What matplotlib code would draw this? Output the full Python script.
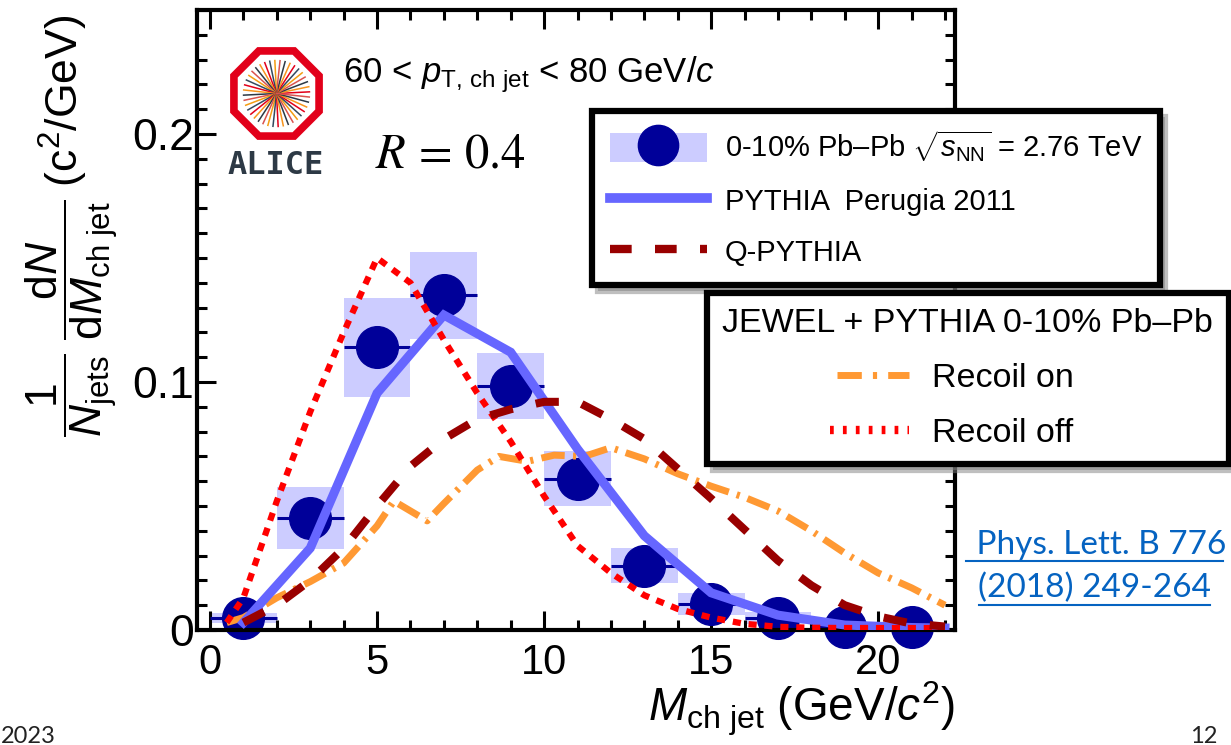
import numpy as np
import matplotlib
matplotlib.use("Agg")
import matplotlib.pyplot as plt
from matplotlib.lines import Line2D
from matplotlib.patches import Patch, RegularPolygon
from matplotlib.legend_handler import HandlerLine2D, HandlerTuple
from matplotlib.ticker import MultipleLocator

# ---------------- data ----------------
data_x = [1, 3, 5, 7, 9, 11, 13, 15, 17, 19, 21]
data_y = [0.005, 0.045, 0.114, 0.135, 0.0985, 0.061, 0.026, 0.0105, 0.0048, 0.0012, 0.0012]
data_sys = [0.002, 0.0125, 0.020, 0.0175, 0.0133, 0.011, 0.007, 0.0043, 0.0025, 0.001, 0.001]
data_xerr = [1, 1, 1, 1, 1, 1, 1, 1, 1, 1, 1]

pythia_x = [1, 3, 5, 7, 9, 11, 13, 15, 17, 19, 21, 22]
pythia_y = [0.003, 0.033, 0.0955, 0.127, 0.112, 0.073, 0.038, 0.015, 0.006, 0.002, 0.001, 0.0008]

qpythia_x = [1, 2, 3, 4, 5, 6, 7, 8, 9, 10, 11, 12, 13, 14, 15, 16, 17, 18, 19, 20, 21, 22]
qpythia_y = [0.003, 0.010, 0.020, 0.033, 0.050, 0.066, 0.077, 0.085, 0.089, 0.092, 0.092, 0.085,
             0.077, 0.065, 0.053, 0.0405, 0.028, 0.018, 0.010, 0.0055, 0.0026, 0.0014]

recoil_on_x = [0.5, 1, 2, 3, 4, 5, 5.5, 6.5, 7, 8, 8.65, 9.5, 10.3, 11.2, 12,
               13, 14, 15, 16, 17, 18, 19, 20, 21, 22]
recoil_on_y = [0.003, 0.005, 0.013, 0.0195, 0.027, 0.042, 0.052, 0.044, 0.051, 0.0645, 0.070,
               0.068, 0.0705, 0.070, 0.0735, 0.069, 0.063, 0.058, 0.0535, 0.048, 0.040,
               0.031, 0.023, 0.017, 0.010]

recoil_off_x = [0.5, 1, 2, 3, 4, 5, 6, 7, 8, 9, 10, 11, 12, 13, 14, 15, 16, 17, 18, 19, 20, 21, 22]
recoil_off_y = [0.003, 0.013, 0.052, 0.088, 0.12, 0.15, 0.14, 0.117, 0.0955, 0.076, 0.054, 0.034,
                0.023, 0.014, 0.0085, 0.005, 0.0025, 0.0013, 0.0009, 0.0008, 0.0008, 0.0008, 0.0008]

xticks = [0, 5, 10, 15, 20]
xticklabels = ["0", "5", "10", "15", "20"]
yticks = [0, 0.1, 0.2]
yticklabels = ["0", "0.1", "0.2"]

legend1_labels = ["0-10% Pb\u2013Pb $\\sqrt{s_{\\rm NN}}$ = 2.76 TeV",
                  "PYTHIA  Perugia 2011", "Q-PYTHIA"]
legend2_title = "JEWEL + PYTHIA 0-10% Pb\u2013Pb"
legend2_labels = ["Recoil on", "Recoil off"]

# ---------------- style ----------------
plt.rcParams['font.family'] = ['Liberation Sans', 'DejaVu Sans']
plt.rcParams['mathtext.fontset'] = 'custom'
plt.rcParams['mathtext.rm'] = 'Liberation Sans'
plt.rcParams['mathtext.it'] = 'Liberation Sans:italic'
plt.rcParams['mathtext.bf'] = 'Liberation Sans:bold'
plt.rcParams['mathtext.sf'] = 'Liberation Sans'

NAVY = '#000099'
BOX = '#ccccff'
BLUE = '#6666ff'
DRED = '#990000'
ORANGE = '#ff9933'
RED = '#ff0000'

W, H = 1231, 745
fig = plt.figure(figsize=(W / 100, H / 100), dpi=100)


def fx(px):
    return px / W


def fy(py):
    return 1 - py / H


ax = fig.add_axes([fx(197), fy(630), (955 - 197) / W, (630 - 10) / H])
ax.set_xlim(-0.39, 22.3)
ax.set_ylim(0, 0.25)

# systematic boxes
dy = np.array(data_y)
ds = np.array(data_sys)
ax.bar(data_x, 2 * ds, bottom=dy - ds, width=2, color=BOX, edgecolor='none', zorder=1)
# data points
ax.errorbar(data_x, data_y, xerr=data_xerr, fmt='o', ms=30, color=NAVY, mfc=NAVY, mec=NAVY,
            elinewidth=2.2, capsize=0, zorder=2, clip_on=False)

# model curves
ax.plot(recoil_on_x, recoil_on_y, color=ORANGE, lw=5, dashes=(3.4, 1.2, 0.45, 1.2), zorder=3)
ax.plot(pythia_x, pythia_y, color=BLUE, lw=6.5, zorder=4, solid_joinstyle='miter')
ax.plot(recoil_off_x, recoil_off_y, color=RED, lw=4.5, dashes=(1.3, 1.25), zorder=5)
ax.plot(qpythia_x, qpythia_y, color=DRED, lw=5.8, dashes=(2.9, 2.9), zorder=6)

# axes style
for s in ax.spines.values():
    s.set_linewidth(3)
ax.set_xticks(xticks)
ax.set_xticklabels(xticklabels)
ax.set_yticks(yticks)
ax.set_yticklabels(yticklabels)
ax.xaxis.set_minor_locator(MultipleLocator(1))
ax.yaxis.set_minor_locator(MultipleLocator(0.01))
ax.tick_params(which='both', direction='in', top=True, right=True, width=2.2)
ax.tick_params(which='major', length=14)
ax.tick_params(which='minor', length=7)
ax.tick_params(axis='x', pad=9, labelsize=30)
ax.tick_params(axis='y', pad=2, labelsize=32)

ax.set_xlabel(r'$M_{\rm ch\ jet}$ (GeV/$c^{2}$)', fontsize=33, ha='right', va='top')
ax.xaxis.set_label_coords(1.0, -0.08)
ax.set_ylabel(r'$\dfrac{1}{N_{\rm jets}}\;\dfrac{{\rm d}N}{{\rm d}M_{\rm ch\ jet}}\;({\rm c}^{2}/{\rm GeV})$',
              fontsize=32, va='center')
ax.yaxis.set_label_coords(-0.165, 0.652)

# annotations
fig.text(fx(343), fy(82), r'60 < $p_{\rm T,\,ch\ jet}$ < 80 GeV/$c$', fontsize=25,
         ha='left', va='baseline')
fig.text(fx(375), fy(167), r'$R\,=\,0.4$', fontsize=35, math_fontfamily='stix',
         ha='left', va='baseline')

# ALICE logo
lax = fig.add_axes([fx(228), fy(142), 97 / W, 97 / H])
lax.set_xlim(-1, 1)
lax.set_ylim(-1, 1)
lax.set_aspect('equal')
lax.axis('off')
lax.add_patch(RegularPolygon((0, 0), numVertices=8, radius=0.95, orientation=np.pi / 8,
                             facecolor='white', edgecolor='#e2001a', lw=5.5))
ray_colors = ['#e2001a', '#f7941d', '#2d3945', '#d9534f', '#f39c12', '#34495e']
for k in range(40):
    a = 2 * np.pi * k / 40 + 0.05
    lax.plot([0, 0.68 * np.cos(a)], [0, 0.68 * np.sin(a)], color=ray_colors[k % 6], lw=1.1)
fig.text(fx(276), fy(174), 'ALICE', fontsize=23, family='DejaVu Sans Mono', weight='bold',
         color='#2d3945', ha='center', va='baseline')

# ---------------- legends ----------------
h_data = (Patch(facecolor=BOX, edgecolor='none'),
          Line2D([], [], ls='none', marker='o', ms=29, mfc=NAVY, mec=NAVY))
h_py = Line2D([], [], color=BLUE, lw=7)
h_q = Line2D([], [], color=DRED, lw=6, dashes=(2.6, 2.8))

leg1 = ax.legend([h_data, h_py, h_q], legend1_labels, loc='upper left',
                 bbox_to_anchor=(fx(592), fy(111)), bbox_transform=fig.transFigure,
                 borderaxespad=0, fontsize=21, frameon=True, fancybox=False,
                 edgecolor='black', framealpha=1, handlelength=3.35, handleheight=1.18,
                 handletextpad=0.6, labelspacing=0.72, borderpad=0.6,
                 handler_map={tuple: HandlerTuple(ndivide=1)},
                 shadow={'ox': 4, 'oy': -4, 'shade': 0.5})
leg1.get_frame().set_linewidth(4.5)
ax.add_artist(leg1)


class IndentedLine(HandlerLine2D):
    def __init__(self, seg, **kw):
        super().__init__(**kw)
        self.seg = seg

    def get_xdata(self, legend, xdescent, ydescent, width, height, fontsize):
        x1 = -xdescent + width
        x0 = x1 - self.seg
        return [x0, x1], [0.5 * (x0 + x1)]


h_on = Line2D([], [], color=ORANGE, lw=5, dashes=(3.5, 1.6, 0.6, 1.6))
h_off = Line2D([], [], color=RED, lw=6, dashes=(0.45, 1.1))
leg2 = ax.legend([h_on, h_off], legend2_labels, title=legend2_title, title_fontsize=24.5,
                 alignment='left', loc='upper left',
                 bbox_to_anchor=(fx(707), fy(293)), bbox_transform=fig.transFigure,
                 borderaxespad=0, fontsize=24.5, frameon=True, fancybox=False,
                 edgecolor='black', framealpha=1, handlelength=5.5, handletextpad=0.65,
                 labelspacing=0.7, borderpad=0.45,
                 handler_map={h_on: IndentedLine(52), h_off: IndentedLine(57)},
                 shadow={'ox': 4, 'oy': -4, 'shade': 0.5})
leg2.get_frame().set_linewidth(4.5)

# ---------------- slide decorations ----------------
LINK = '#0563c1'
fig.text(fx(1097), fy(545), ' Phys. Lett. B 776', fontsize=24, family='Lato', color=LINK,
         ha='center', va='center')
fig.text(fx(1095), fy(588), '(2018) 249-264', fontsize=24, family='Lato', color=LINK,
         ha='center', va='center')
fig.add_artist(Line2D([fx(966), fx(1223)], [fy(561), fy(561)], transform=fig.transFigure,
                      color=LINK, lw=1.5))
fig.add_artist(Line2D([fx(979), fx(1210)], [fy(605), fy(605)], transform=fig.transFigure,
                      color=LINK, lw=1.5))
fig.text(fx(1), fy(743), '2023', fontsize=17, family='Lato', color='#222222',
         ha='left', va='baseline')
fig.text(fx(1190), fy(743), '12', fontsize=17, family='Lato', color='#222222',
         ha='left', va='baseline')

fig.savefig('out.png', dpi=100)
